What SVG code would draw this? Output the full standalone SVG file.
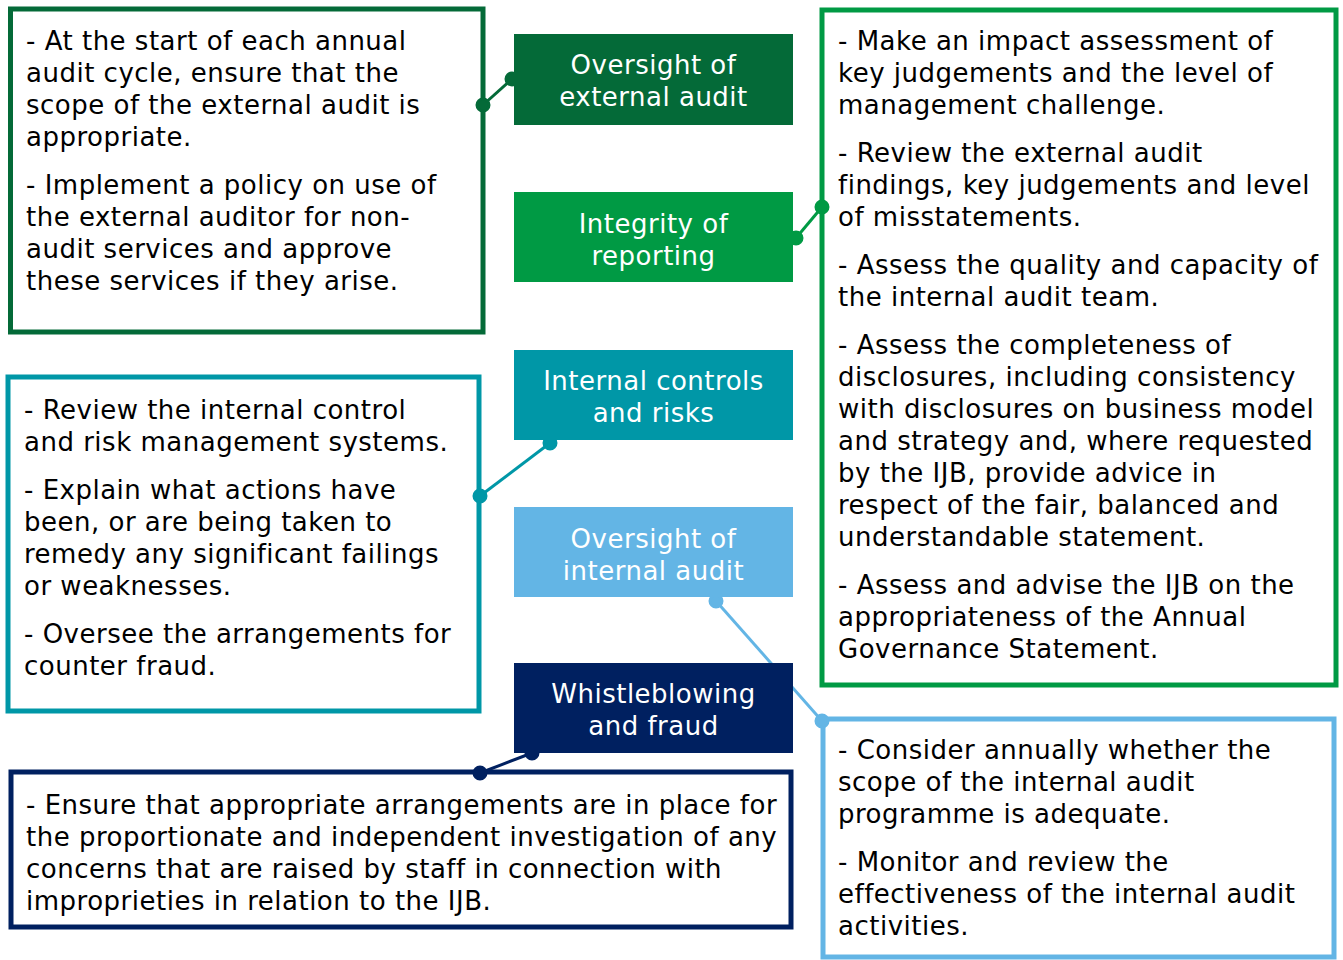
<svg xmlns="http://www.w3.org/2000/svg" width="1343" height="960" viewBox="0 0 1343 960">
<style>
.t{font-family:"DejaVu Sans",Verdana,sans-serif;font-size:26px;fill:#000;letter-spacing:0.5px}
.h{font-family:"DejaVu Sans",Verdana,sans-serif;font-size:26px;fill:#fff;text-anchor:middle;letter-spacing:0.5px}
.box{fill:#fff;stroke-width:5}
</style>
<rect width="1343" height="960" fill="#fff"/>
<g id="box-external">
<rect class="box" x="10.5" y="9" width="472.5" height="323" stroke="#046A38"/>
<text class="t" x="26"><tspan x="26" y="50">- At the start of each annual</tspan><tspan x="26" y="82">audit cycle, ensure that the</tspan><tspan x="26" y="114">scope of the external audit is</tspan><tspan x="26" y="146">appropriate.</tspan><tspan x="26" y="194">- Implement a policy on use of</tspan><tspan x="26" y="226">the external auditor for non-</tspan><tspan x="26" y="258">audit services and approve</tspan><tspan x="26" y="290">these services if they arise.</tspan></text>
</g>
<g id="box-reporting">
<rect class="box" x="822" y="10" width="514" height="675" stroke="#009A44"/>
<text class="t"><tspan x="838" y="50">- Make an impact assessment of</tspan><tspan x="838" y="82">key judgements and the level of</tspan><tspan x="838" y="114">management challenge.</tspan><tspan x="838" y="162">- Review the external audit</tspan><tspan x="838" y="194">findings, key judgements and level</tspan><tspan x="838" y="226">of misstatements.</tspan><tspan x="838" y="274">- Assess the quality and capacity of</tspan><tspan x="838" y="306">the internal audit team.</tspan><tspan x="838" y="354">- Assess the completeness of</tspan><tspan x="838" y="386">disclosures, including consistency</tspan><tspan x="838" y="418">with disclosures on business model</tspan><tspan x="838" y="450">and strategy and, where requested</tspan><tspan x="838" y="482">by the IJB, provide advice in</tspan><tspan x="838" y="514">respect of the fair, balanced and</tspan><tspan x="838" y="546">understandable statement.</tspan><tspan x="838" y="594">- Assess and advise the IJB on the</tspan><tspan x="838" y="626">appropriateness of the Annual</tspan><tspan x="838" y="658">Governance Statement.</tspan></text>
</g>
<g id="box-controls">
<rect class="box" x="8" y="377" width="471" height="334" stroke="#0097A7"/>
<text class="t"><tspan x="24" y="419">- Review the internal control</tspan><tspan x="24" y="451">and risk management systems.</tspan><tspan x="24" y="499">- Explain what actions have</tspan><tspan x="24" y="531">been, or are being taken to</tspan><tspan x="24" y="563">remedy any significant failings</tspan><tspan x="24" y="595">or weaknesses.</tspan><tspan x="24" y="643">- Oversee the arrangements for</tspan><tspan x="24" y="675">counter fraud.</tspan></text>
</g>
<g id="box-internal-audit">
<rect class="box" x="823" y="719" width="511" height="238" stroke="#63B5E5"/>
<text class="t"><tspan x="838" y="759">- Consider annually whether the</tspan><tspan x="838" y="791">scope of the internal audit</tspan><tspan x="838" y="823">programme is adequate.</tspan><tspan x="838" y="871">- Monitor and review the</tspan><tspan x="838" y="903">effectiveness of the internal audit</tspan><tspan x="838" y="935">activities.</tspan></text>
</g>
<g id="box-whistleblowing">
<rect class="box" x="11" y="772" width="780" height="155" stroke="#002060"/>
<text class="t"><tspan x="26" y="814">- Ensure that appropriate arrangements are in place for</tspan><tspan x="26" y="846">the proportionate and independent investigation of any</tspan><tspan x="26" y="878">concerns that are raised by staff in connection with</tspan><tspan x="26" y="910">improprieties in relation to the IJB.</tspan></text>
</g>
<g id="connectors" stroke-width="3">
<g stroke="#046A38" fill="#046A38"><line x1="483" y1="105" x2="512" y2="79"/><circle cx="483" cy="105" r="6"/><circle cx="512" cy="79" r="6"/></g>
<g stroke="#009A44" fill="#009A44"><line x1="796" y1="238" x2="822" y2="207"/><circle cx="796" cy="238" r="6"/><circle cx="822" cy="207" r="6"/></g>
<g stroke="#0097A7" fill="#0097A7"><line x1="480" y1="496" x2="550" y2="443"/><circle cx="480" cy="496" r="6"/><circle cx="550" cy="443" r="6"/></g>
<g stroke="#63B5E5" fill="#63B5E5"><line x1="716" y1="601" x2="822" y2="721"/><circle cx="716" cy="601" r="6"/><circle cx="822" cy="721" r="6"/></g>
<g stroke="#002060" fill="#002060"><line x1="480" y1="773" x2="532" y2="753"/><circle cx="480" cy="773" r="6"/><circle cx="532" cy="753" r="6"/></g>
</g>
<g id="title-external">
<rect x="514" y="34" width="279" height="91" fill="#046A38"/>
<text class="h"><tspan x="653.5" y="74">Oversight of</tspan><tspan x="653.5" y="106">external audit</tspan></text>
</g>
<g id="title-reporting">
<rect x="514" y="192" width="279" height="90" fill="#009A44"/>
<text class="h"><tspan x="653.5" y="233">Integrity of</tspan><tspan x="653.5" y="265">reporting</tspan></text>
</g>
<g id="title-controls">
<rect x="514" y="350" width="279" height="90" fill="#0097A7"/>
<text class="h"><tspan x="653.5" y="390">Internal controls</tspan><tspan x="653.5" y="422">and risks</tspan></text>
</g>
<g id="title-internal-audit">
<rect x="514" y="507" width="279" height="90" fill="#63B5E5"/>
<text class="h"><tspan x="653.5" y="548">Oversight of</tspan><tspan x="653.5" y="580">internal audit</tspan></text>
</g>
<g id="title-whistleblowing">
<rect x="514" y="663" width="279" height="90" fill="#002060"/>
<text class="h"><tspan x="653.5" y="703">Whistleblowing</tspan><tspan x="653.5" y="735">and fraud</tspan></text>
</g>
</svg>
